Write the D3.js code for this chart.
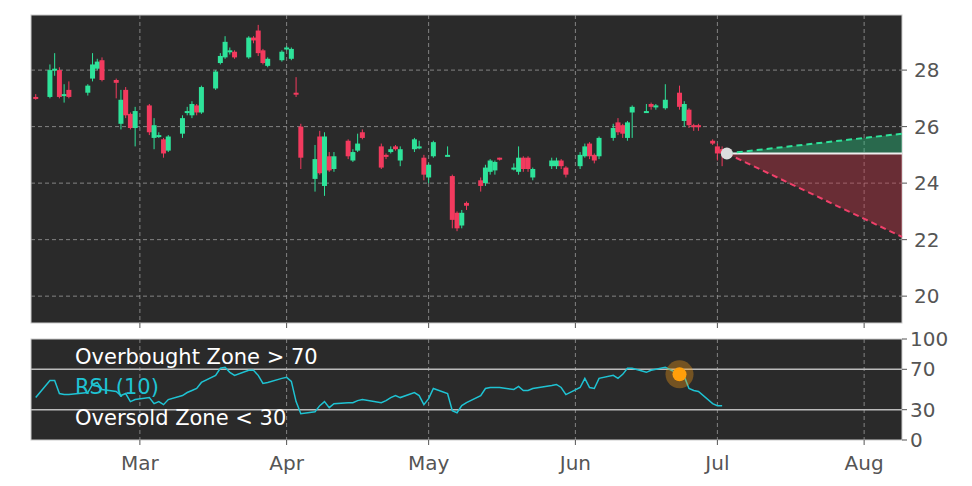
<!DOCTYPE html>
<html><head><meta charset="utf-8">
<script src="https://cdn.jsdelivr.net/npm/d3@7"></script>
<style>body{margin:0;background:#fff;}svg{display:block;font-family:"DejaVu Sans",sans-serif;}</style>
</head><body><svg id="c" width="972" height="486"></svg>
<script>
const dates = ["2025-02-07","2025-02-10","2025-02-11","2025-02-12","2025-02-13","2025-02-14","2025-02-18","2025-02-19","2025-02-20","2025-02-21","2025-02-24","2025-02-25","2025-02-26","2025-02-27","2025-02-28","2025-03-03","2025-03-04","2025-03-05","2025-03-06","2025-03-07","2025-03-10","2025-03-11","2025-03-12","2025-03-13","2025-03-14","2025-03-17","2025-03-18","2025-03-19","2025-03-20","2025-03-21","2025-03-24","2025-03-25","2025-03-26","2025-03-27","2025-03-28","2025-03-31","2025-04-01","2025-04-02","2025-04-03","2025-04-04","2025-04-07","2025-04-08","2025-04-09","2025-04-10","2025-04-11","2025-04-14","2025-04-15","2025-04-16","2025-04-17","2025-04-21","2025-04-22","2025-04-23","2025-04-24","2025-04-25","2025-04-28","2025-04-29","2025-04-30","2025-05-01","2025-05-02","2025-05-05","2025-05-06","2025-05-07","2025-05-08","2025-05-09","2025-05-12","2025-05-13","2025-05-14","2025-05-15","2025-05-16","2025-05-19","2025-05-20","2025-05-21","2025-05-22","2025-05-23","2025-05-27","2025-05-28","2025-05-29","2025-05-30","2025-06-02","2025-06-03","2025-06-04","2025-06-05","2025-06-06","2025-06-09","2025-06-10","2025-06-11","2025-06-12","2025-06-13","2025-06-16","2025-06-17","2025-06-18","2025-06-20","2025-06-23","2025-06-24","2025-06-25","2025-06-26","2025-06-27","2025-06-30","2025-07-01","2025-07-02"];
const opens  = [27.05,27.05,28.0,28.0,27.15,27.3,27.2,27.7,28.05,28.35,27.65,26.1,27.3,26.45,25.95,26.75,25.6,25.65,25.55,25.15,25.75,26.5,26.4,26.75,26.5,27.35,28.25,28.45,28.65,28.65,28.45,29.15,29.4,28.7,28.15,28.35,28.75,28.4,27.2,26.0,24.15,25.65,23.9,24.95,24.5,25.5,24.8,25.15,25.8,25.3,25.0,25.1,25.3,24.8,25.2,25.25,24.9,24.2,24.95,25.0,24.25,22.95,22.5,23.3,24.1,24.0,24.4,24.45,24.9,24.5,24.4,24.9,24.9,24.2,24.6,24.6,24.8,24.55,24.6,24.95,25.4,25.0,24.95,25.6,26.15,26.05,25.6,26.5,26.5,26.8,26.7,26.65,27.2,26.2,26.6,26.05,26.05,25.5,25.3,25.2];
const highs  = [27.15,28.2,28.6,28.1,27.5,27.6,27.5,28.6,28.4,28.45,27.7,27.3,27.4,26.5,26.7,26.8,26.3,25.8,25.6,25.7,26.4,26.7,26.9,26.8,27.45,28.0,28.6,29.2,28.8,28.7,29.2,29.2,29.6,28.75,28.45,28.7,28.85,28.8,27.75,26.1,25.35,25.85,25.8,25.1,25.1,25.55,25.2,25.75,25.9,25.4,25.05,25.3,25.35,25.3,25.6,25.5,25.0,24.7,25.5,25.3,24.3,23.0,23.05,23.35,24.2,24.65,24.85,24.8,24.9,24.7,25.3,24.95,24.95,24.55,24.9,24.9,24.85,24.6,25.1,25.4,25.45,25.05,25.65,26.1,26.3,26.1,26.2,26.75,26.8,26.85,26.8,27.5,27.45,26.9,26.65,26.1,26.1,25.55,25.4,25.3];
const lows   = [26.95,27.0,27.8,27.0,26.85,27.0,27.1,27.6,28.0,27.6,27.0,25.9,26.3,25.9,25.3,25.7,25.2,25.6,24.9,25.1,25.6,26.4,26.3,26.4,26.45,27.3,28.2,28.4,28.55,28.4,28.4,28.95,28.5,28.2,28.1,28.3,28.7,28.35,27.05,24.5,23.7,24.3,23.55,24.4,24.4,24.85,24.75,25.1,25.55,24.5,24.85,25.05,25.15,24.6,25.1,25.2,24.1,24.0,24.9,24.95,22.4,22.3,22.4,23.05,23.7,23.9,24.3,24.3,24.8,24.45,24.3,24.4,24.4,24.1,24.5,24.5,24.5,24.2,24.5,24.9,24.85,24.7,24.85,25.5,25.7,25.6,25.5,25.6,26.5,26.6,26.6,26.6,26.6,26.0,25.95,25.85,25.85,25.35,24.8,24.6];
const closes = [27.0,28.0,28.05,27.05,27.15,27.05,27.45,28.2,28.3,27.65,27.55,26.95,26.4,25.95,26.55,25.8,26.05,25.7,25.05,25.65,26.3,26.55,26.8,26.5,27.4,27.95,28.5,29.0,28.7,28.45,29.15,29.05,28.6,28.25,28.4,28.65,28.8,28.75,27.15,24.9,24.85,24.35,25.65,24.45,24.95,24.95,25.1,25.4,25.6,24.55,24.95,25.2,25.2,25.2,25.55,25.3,24.3,24.65,25.45,25.0,22.7,22.4,22.95,23.2,23.9,24.55,24.8,24.75,24.85,24.55,24.9,24.5,24.5,24.5,24.8,24.8,24.6,24.3,25.0,25.3,24.95,24.8,25.6,25.95,25.8,25.75,26.15,26.7,26.55,26.7,26.75,26.95,26.7,26.8,26.05,26.0,26.0,25.4,25.05,25.05];
const rsi = [42,59,59,46,45,45,47,55,57,50,48,44,46,38,40,42,36,38,35,40,44,47,49,51,57,64,71,72,67,64,69,69,64,56,57,61,62,58,38,26,28,34,38,32,36,37,37,39,40,37,39,42,44,42,47,44,35,41,51,46,29,27,34,37,44,51,52,52,52,50,53,49,49,51,54,55,52,45,52,61,52,51,61,64,61,65,71,71,67,69,70,72,65,63,51,49,48,36,34,34];
const yTicks = [20,22,24,26,28];
const rsiTicks = [0,30,70,100];
const monthTicks = ["2025-03-01","2025-04-01","2025-05-01","2025-06-01","2025-07-01","2025-08-01"];
const monthLabels = ["Mar","Apr","May","Jun","Jul","Aug"];
const forecastDates = ["2025-07-03","2025-08-09"];
const forecastMid = [25.05,25.05];
const forecastHigh = [25.05,25.75];
const forecastLow = [25.05,22.1];
const rsiMarker = {date:"2025-06-23", value:65};

const p = d3.timeParse("%Y-%m-%d");
const svg = d3.select("#c");
const L=31,R=902,T1=15,B1=323,T2=339,B2=440;
const x = d3.scaleTime().domain([p("2025-02-06"),p("2025-08-09")]).range([L,R]);
const y = d3.scaleLinear().domain([19.05,29.95]).range([B1,T1]);
const y2 = d3.scaleLinear().domain([0,100]).range([B2,T2]);
const bg="#2a2a2a", grid="#9a9a9a", up="#2ee39a", dn="#f23a5e", tick="#555";

svg.append("rect").attr("x",L).attr("y",T1).attr("width",R-L).attr("height",B1-T1).attr("fill",bg).attr("stroke","#ccc");
svg.append("rect").attr("x",L).attr("y",T2).attr("width",R-L).attr("height",B2-T2).attr("fill",bg).attr("stroke","#ccc");

const g1=svg.append("g");
yTicks.forEach(t=>g1.append("line").attr("x1",L).attr("x2",R).attr("y1",y(t)).attr("y2",y(t)).attr("stroke",grid).attr("stroke-dasharray","4,3").attr("stroke-width",0.8));
monthTicks.forEach(m=>{const xx=x(p(m));
  [[T1,B1],[T2,B2]].forEach(([a,b])=>svg.append("line").attr("x1",xx).attr("x2",xx).attr("y1",a).attr("y2",b).attr("stroke",grid).attr("stroke-dasharray","4,3").attr("stroke-width",0.8));
});

// forecast
const fd=forecastDates.map(p);
const areaU=d3.area().x((d,i)=>x(fd[i])).y0((d,i)=>y(forecastMid[i])).y1(d=>y(d));
svg.append("path").datum(forecastHigh).attr("d",areaU).attr("fill","rgba(40,200,130,0.4)");
svg.append("path").datum(forecastLow).attr("d",areaU).attr("fill","rgba(200,50,70,0.4)");
const ln=d3.line().x((d,i)=>x(fd[i])).y(d=>y(d));
svg.append("path").datum(forecastMid).attr("d",ln).attr("stroke","#eee").attr("stroke-width",2).attr("fill","none");
svg.append("path").datum(forecastHigh).attr("d",ln).attr("stroke",up).attr("stroke-width",2).attr("stroke-dasharray","6,4").attr("fill","none");
svg.append("path").datum(forecastLow).attr("d",ln).attr("stroke","#f0406a").attr("stroke-width",2).attr("stroke-dasharray","6,4").attr("fill","none");

// candles
dates.forEach((d,i)=>{
  const xx=x(p(d)), c=closes[i]>=opens[i]?up:dn;
  svg.append("line").attr("x1",xx).attr("x2",xx).attr("y1",y(highs[i])).attr("y2",y(lows[i])).attr("stroke",c).attr("stroke-width",1);
  const t=Math.min(y(opens[i]),y(closes[i])), h=Math.max(2,Math.abs(y(opens[i])-y(closes[i])));
  svg.append("rect").attr("x",xx-2.5).attr("y",t).attr("width",5).attr("height",h).attr("fill",c);
});
svg.append("circle").attr("cx",x(fd[0])).attr("cy",y(forecastMid[0])).attr("r",6).attr("fill","#ddd");

// y ticks
yTicks.forEach(t=>{svg.append("line").attr("x1",R).attr("x2",R+5).attr("y1",y(t)).attr("y2",y(t)).attr("stroke",tick);
  svg.append("text").attr("x",R+12).attr("y",y(t)+7).text(t).attr("font-size",20).attr("fill",tick);});
rsiTicks.forEach(t=>{svg.append("line").attr("x1",R).attr("x2",R+5).attr("y1",y2(t)).attr("y2",y2(t)).attr("stroke",tick);
  svg.append("text").attr("x",R+8).attr("y",y2(t)+7).text(t).attr("font-size",20).attr("fill",tick);});
monthTicks.forEach((m,i)=>{const xx=x(p(m));
  svg.append("line").attr("x1",xx).attr("x2",xx).attr("y1",B1).attr("y2",B1+5).attr("stroke",tick);
  svg.append("line").attr("x1",xx).attr("x2",xx).attr("y1",B2).attr("y2",B2+5).attr("stroke",tick);
  svg.append("text").attr("x",xx).attr("y",470).attr("text-anchor","middle").text(monthLabels[i]).attr("font-size",20).attr("fill",tick);});

// RSI
[70,30].forEach(v=>svg.append("line").attr("x1",L).attr("x2",R).attr("y1",y2(v)).attr("y2",y2(v)).attr("stroke","#bbb").attr("stroke-width",1.5));
svg.append("path").datum(rsi).attr("d",d3.line().x((d,i)=>x(p(dates[i]))).y(d=>y2(d))).attr("fill","none").attr("stroke","#1fc3d3").attr("stroke-width",1.5);
const mx=x(p(rsiMarker.date)), my=y2(rsiMarker.value);
svg.append("circle").attr("cx",mx).attr("cy",my).attr("r",14).attr("fill","rgba(255,160,20,0.35)");
svg.append("circle").attr("cx",mx).attr("cy",my).attr("r",7).attr("fill","#ff9f0a");
svg.append("text").attr("x",75).attr("y",364).text("Overbought Zone > 70").attr("font-size",21).attr("fill","#fff");
svg.append("text").attr("x",75).attr("y",394).text("RSI (10)").attr("font-size",21).attr("fill","#1fc3d3");
svg.append("text").attr("x",75).attr("y",425).text("Oversold Zone < 30").attr("font-size",21).attr("fill","#fff");
</script></body></html>
